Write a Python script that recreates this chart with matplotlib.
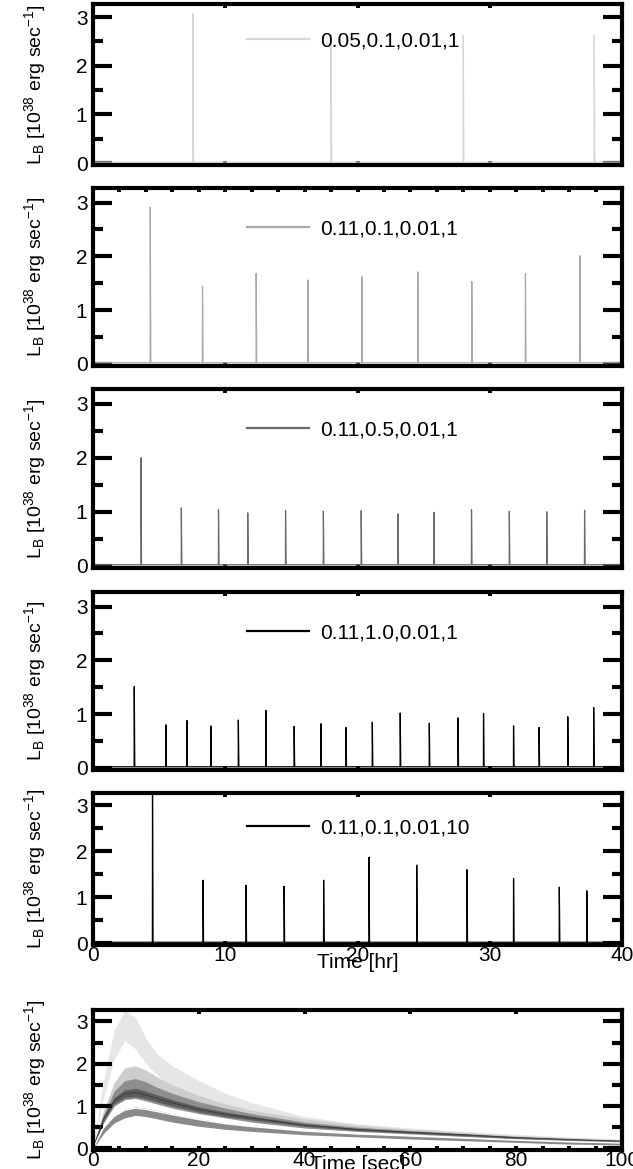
import numpy as np
import matplotlib.pyplot as plt
from matplotlib.ticker import MultipleLocator

plt.rcParams['font.family'] = ['Liberation Sans', 'DejaVu Sans']
plt.rcParams['mathtext.fontset'] = 'custom'
plt.rcParams['mathtext.rm'] = 'Liberation Sans'
plt.rcParams['mathtext.it'] = 'Liberation Sans'

# burst light curves: (labels, burst times [hr], peak luminosity [1e38 erg/s])
labels = ['0.05,0.1,0.01,1', '0.11,0.1,0.01,1', '0.11,0.5,0.01,1',
          '0.11,1.0,0.01,1', '0.11,0.1,0.01,10']
colors = ['#d6d6d6', '#a9a9a9', '#6c6c6c', '#000000', '#000000']

t1 = [7.56, 18.0, 28.0, 37.9]
p1 = [3.07, 2.64, 2.62, 2.62]

t2 = [4.33, 8.28, 12.34, 16.25, 20.33, 24.56, 28.64, 32.70, 36.82]
p2 = [2.91, 1.44, 1.68, 1.56, 1.62, 1.71, 1.53, 1.68, 2.01]

t3 = [3.63, 6.68, 9.49, 11.70, 14.56, 17.42, 20.28, 23.06, 25.78, 28.62,
      31.48, 34.31, 37.17]
p3 = [2.00, 1.07, 1.04, 0.98, 1.02, 1.01, 1.02, 0.96, 0.99, 1.04, 1.01, 1.00, 1.03]

t4 = [3.12, 5.51, 7.10, 8.91, 10.99, 13.07, 15.21, 17.23, 19.13, 21.12,
      23.23, 25.43, 27.60, 29.53, 31.80, 33.73, 35.90, 37.86]
p4 = [1.51, 0.80, 0.88, 0.78, 0.89, 1.07, 0.77, 0.82, 0.75, 0.85, 1.02, 0.83,
      0.93, 1.01, 0.78, 0.75, 0.95, 1.12]

t5 = [4.50, 8.32, 11.57, 14.45, 17.44, 20.87, 24.48, 28.28, 31.80, 35.26, 37.34]
p5 = [3.40, 1.37, 1.26, 1.24, 1.37, 1.87, 1.70, 1.60, 1.41, 1.22, 1.14]

burst_times = [t1, t2, t3, t4, t5]
burst_peaks = [p1, p2, p3, p4, p5]

# averaged burst profiles (bands) vs time since onset [sec]
ts = [0, 2, 4, 6, 8, 10, 12, 15, 20, 25, 30, 40, 50, 60, 70, 80, 90, 100]
band_colors = ['#e6e6e6', '#cdcdcd', '#8e8e8e', '#5c5c5c', '#8a8a8a']
band_hi = [
    [0.05, 1.6, 2.8, 3.25, 3.1, 2.6, 2.25, 1.95, 1.6, 1.3, 1.08, 0.75, 0.58, 0.48, 0.4, 0.33, 0.27, 0.22],
    [0.03, 0.9, 1.55, 1.9, 1.95, 1.85, 1.7, 1.5, 1.25, 1.05, 0.9, 0.7, 0.55, 0.45, 0.38, 0.3, 0.25, 0.2],
    [0.02, 0.8, 1.35, 1.6, 1.65, 1.57, 1.45, 1.3, 1.1, 0.95, 0.82, 0.62, 0.5, 0.42, 0.35, 0.28, 0.22, 0.18],
    [0.02, 0.75, 1.2, 1.38, 1.42, 1.35, 1.27, 1.15, 0.98, 0.86, 0.76, 0.58, 0.47, 0.4, 0.34, 0.27, 0.22, 0.18],
    [0.01, 0.5, 0.78, 0.93, 0.98, 0.95, 0.9, 0.82, 0.7, 0.6, 0.53, 0.42, 0.35, 0.3, 0.25, 0.2, 0.16, 0.13],
]
band_lo = [
    [0.03, 1.2, 2.1, 2.55, 2.35, 2.0, 1.75, 1.45, 1.15, 0.95, 0.82, 0.62, 0.5, 0.42, 0.35, 0.28, 0.22, 0.17],
    [0.02, 0.7, 1.2, 1.45, 1.5, 1.42, 1.3, 1.15, 0.95, 0.82, 0.72, 0.55, 0.45, 0.38, 0.3, 0.24, 0.2, 0.15],
    [0.01, 0.6, 1.0, 1.15, 1.18, 1.12, 1.05, 0.95, 0.82, 0.72, 0.62, 0.48, 0.4, 0.34, 0.28, 0.22, 0.18, 0.14],
    [0.01, 0.65, 1.05, 1.2, 1.22, 1.17, 1.1, 1.0, 0.86, 0.75, 0.67, 0.52, 0.42, 0.36, 0.3, 0.24, 0.2, 0.16],
    [0.0, 0.35, 0.6, 0.72, 0.78, 0.75, 0.7, 0.62, 0.52, 0.45, 0.4, 0.32, 0.27, 0.22, 0.18, 0.14, 0.1, 0.08],
]

ylab = r'L$_\mathrm{B}$ [10$^{38}$ erg sec$^{-1}$]'
FS = 15


def light_curve(times, peaks, width=0.04):
    x, y = [0.0], [0.02]
    for t, p in zip(times, peaks):
        x += [t - 0.01, t, t + width]
        y += [0.02, p, 0.02]
    x.append(40.0)
    y.append(0.02)
    return np.array(x), np.array(y)


def style_axis(ax):
    for s in ax.spines.values():
        s.set_linewidth(3.0)
    ax.set_ylim(-0.04, 3.27)
    ax.yaxis.set_major_locator(MultipleLocator(1))
    ax.yaxis.set_minor_locator(MultipleLocator(0.5))
    ax.tick_params(axis='y', which='major', direction='in', length=14, width=3.0,
                   left=True, right=True, labelsize=FS, pad=4)
    ax.tick_params(axis='y', which='minor', direction='in', length=7, width=3.0,
                   left=True, right=True)
    ax.tick_params(axis='x', which='both', direction='in', length=3, width=2.8,
                   top=True, bottom=True, labelsize=FS, pad=1)
    ax.set_ylabel(ylab, fontsize=14, labelpad=20)


fig = plt.figure(figsize=(6.33, 11.69), dpi=100)
H = 1169.0
left, width = 93 / 633, 529 / 633
spans = [(4, 165), (188, 366), (389, 568), (592, 770), (793, 945)]

for i, (top, bot) in enumerate(spans):
    ax = fig.add_axes([left, 1 - bot / H, width, (bot - top) / H])
    x, y = light_curve(burst_times[i], burst_peaks[i])
    ax.plot(x, y, color=colors[i], lw=0.9)
    ax.plot([], [], color=colors[i], lw=1.6, label=labels[i])
    ax.legend(loc='center left', bbox_to_anchor=(0.275, 0.77), frameon=False,
              fontsize=15, handlelength=3.0, handletextpad=0.5,
              borderaxespad=0)
    ax.set_xlim(0, 40)
    ax.xaxis.set_major_locator(MultipleLocator(10))
    style_axis(ax)
    if i == 1:
        ax.xaxis.set_minor_locator(MultipleLocator(2))
        ax.tick_params(axis='x', which='minor', bottom=False, top=True,
                       length=3, width=2.8)
    if i < 4:
        ax.tick_params(axis='x', labelbottom=False)
    else:
        ax.set_xlabel('Time [hr]', fontsize=FS, labelpad=-9)

# averaged burst profiles
ax = fig.add_axes([left, 1 - 1150 / H, width, (1150 - 1010) / H])
for hi, lo, c in zip(band_hi, band_lo, band_colors):
    ax.fill_between(ts, lo, hi, color=c, lw=0)
ax.plot(ts, np.array(band_hi[4]) * 0.97, color='white', lw=1.0)
ax.plot(ts, (np.array(band_hi[3]) + np.array(band_lo[3])) / 2, color='#3a3a3a', lw=0.6)
ax.set_xlim(0, 100)
style_axis(ax)
ax.xaxis.set_major_locator(MultipleLocator(20))
ax.xaxis.set_minor_locator(MultipleLocator(5))
ax.tick_params(axis='x', which='minor', top=False, bottom=True, direction='in',
               length=3, width=2.8)
ax.set_xlabel('Time [sec]', fontsize=FS, labelpad=-11)

fig.savefig('out.png', dpi=100)
